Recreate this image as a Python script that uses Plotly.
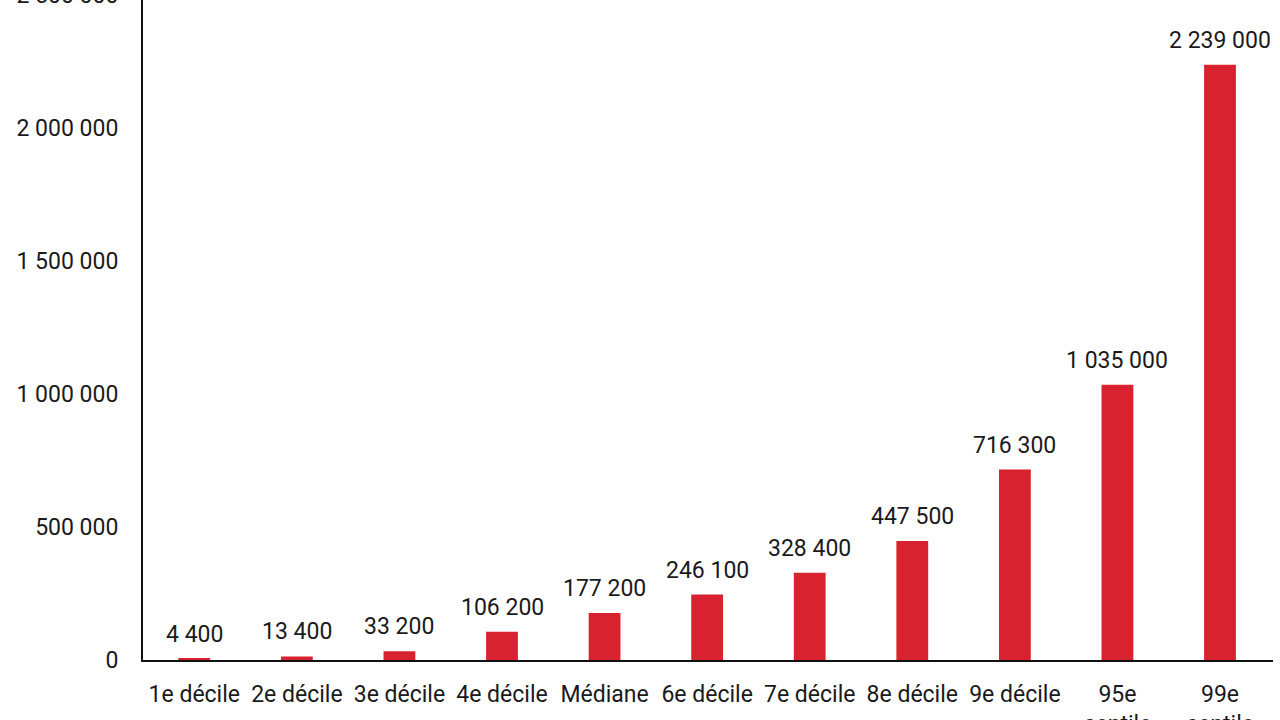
import plotly.graph_objects as go

categories = ["1e décile", "2e décile", "3e décile", "4e décile", "Médiane",
              "6e décile", "7e décile", "8e décile", "9e décile",
              "95e<br>centile", "99e<br>centile"]
values = [4400, 13400, 33200, 106200, 177200, 246100, 328400, 447500,
          716300, 1035000, 2239000]
y_ticks = [0, 500000, 1000000, 1500000, 2000000, 2500000]

font_name = "Roboto"
text_color = "#1a1a1a"
bar_color = "#D8222F"
fsize = 23

fig = go.Figure()
fig.add_trace(go.Bar(
    x=categories,
    y=values,
    marker_color=bar_color,
    marker_line_width=0,
    hoverinfo="x+y",
))

# value labels above each bar
for cat, val in zip(categories, values):
    fig.add_annotation(
        x=cat, y=val,
        text=f"{val:,}".replace(",", " "),
        showarrow=False,
        yanchor="bottom",
        yshift=9,
        font=dict(family=font_name, size=fsize, color=text_color),
    )

fig.update_layout(
    width=1280,
    height=730,
    margin=dict(l=143, r=7, t=0, b=65, autoexpand=False),
    paper_bgcolor="white",
    plot_bgcolor="white",
    bargap=0.69,
    showlegend=False,
    separators=", ",
    font=dict(family=font_name, size=fsize, color=text_color),
)
fig.update_xaxes(
    showline=True,
    linecolor="#111111",
    linewidth=2,
    showgrid=False,
    ticks="",
    ticklabelstandoff=12,
    automargin=False,
    tickfont=dict(family=font_name, size=fsize, color=text_color),
)
fig.update_yaxes(
    range=[0, 2501000],
    tickvals=y_ticks,
    tickformat=",d",
    showline=True,
    linecolor="#111111",
    linewidth=2,
    showgrid=False,
    zeroline=False,
    ticks="",
    ticklabelstandoff=18,
    ticklabeloverflow="allow",
    automargin=False,
    tickfont=dict(family=font_name, size=fsize, color=text_color),
)

# the source image is cropped: the top tick label and the second line of
# the last two category labels fall partly outside the frame
crop = ("document.body.style.margin='0';"
        "document.body.style.overflow='hidden';"
        "var d=document.getElementById('{plot_id}');"
        "d.style.position='relative';d.style.top='-5px';")

fig.write_html("out.html", post_script=crop,
               config={"displayModeBar": False})
